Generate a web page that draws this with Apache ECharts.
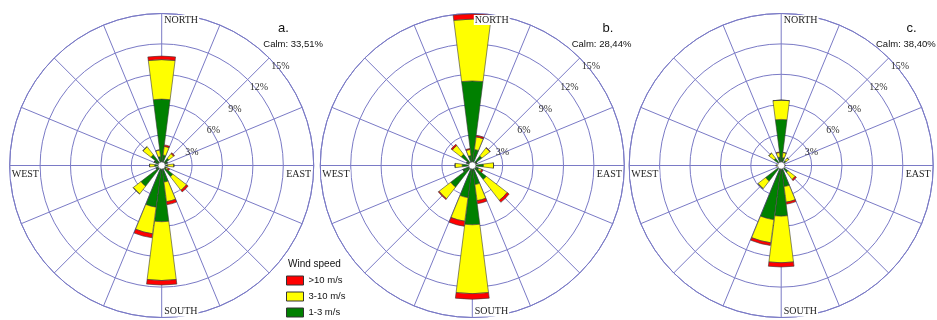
<!DOCTYPE html>
<html>
<head>
<meta charset="utf-8">
<script src="https://cdn.jsdelivr.net/npm/echarts@6/dist/echarts.min.js"></script>
<style>
html, body { margin: 0; padding: 0; background: #fff; }
#chart { width: 937px; height: 320px; }
</style>
</head>
<body>
<div id="chart"></div>
<script>
// Direction sectors, 15° wide, clockwise from north
const sectors = ['0°', '15°', '30°', '45°', '60°', '75°', '90°', '105°', '120°', '135°', '150°', '165°',
                 '180°', '195°', '210°', '225°', '240°', '255°', '270°', '285°', '300°', '315°', '330°', '345°'];
// 16-point compass used for the spokes of the grid
const compassPoints = ['N', 'NNE', 'NE', 'ENE', 'E', 'ESE', 'SE', 'SSE', 'S', 'SSW', 'SW', 'WSW', 'W', 'WNW', 'NW', 'NNW'];
const ringTicks = [0, 3, 6, 9, 12, 15];
const speedClasses = ['1-3 m/s', '3-10 m/s', '>10 m/s'];
const legendOrder = ['>10 m/s', '3-10 m/s', '1-3 m/s'];
const compassNames = ['NORTH', 'EAST', 'SOUTH', 'WEST'];

// Station a: frequency (%) per sector and speed class
const roseA_low  = [6.55, 1.05, 0, 0.9, 0.6, 0, 0.6, 0, 0.5, 1.4, 0, 1.65, 5.55, 4.15, 0, 2.6, 0.6, 0, 0.7, 0, 0.8, 1.35, 0, 0.9];
const roseA_mid  = [3.9, 0.85, 0, 0.6, 0, 0, 0.6, 0, 0.2, 1.7, 0, 1.95, 5.8, 2.65, 0, 0.95, 0, 0, 0.5, 0, 0, 1.0, 0, 0.65];
const roseA_high = [0.35, 0.15, 0, 0.1, 0, 0, 0, 0, 0.15, 0.2, 0, 0.3, 0.45, 0.4, 0, 0, 0, 0, 0, 0, 0, 0, 0, 0];

// Station b
const roseB_low  = [8.35, 1.6, 0, 1.2, 0.5, 0, 1.1, 0, 0.7, 1.75, 0, 1.9, 5.85, 3.2, 0, 2.7, 1.0, 0, 1.0, 0, 0.6, 1.4, 0, 1.0];
const roseB_mid  = [6.1, 1.25, 0, 1.0, 0, 0, 1.0, 0, 0.3, 2.6, 0, 1.6, 6.8, 2.35, 0, 1.45, 0, 0, 0.7, 0, 0, 1.1, 0, 0.6];
const roseB_high = [0.5, 0.15, 0, 0.05, 0, 0, 0, 0, 0.15, 0.25, 0, 0.3, 0.55, 0.5, 0, 0.1, 0, 0, 0, 0, 0, 0.15, 0, 0.1];

// Station c
const roseC_low  = [4.55, 0.8, 0, 0.6, 0, 0, 0.3, 0, 0, 0.85, 0, 2.1, 5.0, 5.4, 0, 1.95, 0, 0, 0.3, 0, 0, 0.9, 0, 0.85];
const roseC_mid  = [1.9, 0.5, 0, 0.35, 0, 0, 0.1, 0, 0, 0.9, 0, 1.55, 4.6, 2.3, 0, 0.95, 0, 0, 0.2, 0, 0, 0.65, 0, 0.45];
const roseC_high = [0, 0, 0, 0, 0, 0, 0, 0, 0, 0.15, 0, 0.2, 0.42, 0.27, 0, 0, 0, 0, 0, 0, 0, 0, 0, 0.05];

const panelTags = ['a.', 'b.', 'c.'];
const calmShares = ['Calm: 33,51%', 'Calm: 28,44%', 'Calm: 38,40%'];

const roses = [
  { low: roseA_low, mid: roseA_mid, high: roseA_high },
  { low: roseB_low, mid: roseB_mid, high: roseB_high },
  { low: roseC_low, mid: roseC_mid, high: roseC_high }
];

// Layout
const centersX = [161.7, 472.3, 781.2];
const centerY = 165.5;
const R = 152;
const gridColor = '#7a7ac6';
const speedColors = { '1-3 m/s': '#008000', '3-10 m/s': '#ffff00', '>10 m/s': '#ff0000' };
const serif = '"Liberation Serif", "DejaVu Serif", serif';
const sans = '"Liberation Sans", Arial, sans-serif';
const noPointer = { show: false };

const polar = [], angleAxis = [], radiusAxis = [], series = [], graphic = [];

centersX.forEach((cx, i) => {
  // polar for the grid: rings every 3 %, spokes on the 16 compass points
  polar.push({ center: [cx, centerY], radius: R });
  angleAxis.push({
    polarIndex: polar.length - 1, type: 'category', data: compassPoints, boundaryGap: true,
    startAngle: 45, clockwise: true, axisPointer: noPointer, silent: true,
    axisLine: { show: true, lineStyle: { color: gridColor, width: 1 } },
    axisTick: { show: false }, axisLabel: { show: false },
    splitLine: { show: true, lineStyle: { color: gridColor, width: 1 } }
  });
  radiusAxis.push({
    polarIndex: polar.length - 1, type: 'value', min: ringTicks[0], max: ringTicks[ringTicks.length - 1], interval: 3,
    axisLine: { show: false }, axisTick: { show: false }, axisPointer: noPointer, silent: true,
    splitLine: { show: true, lineStyle: { color: gridColor, width: 1 } },
    axisLabel: {
      show: true, showMinLabel: false, formatter: '{value}%', margin: 0,
      align: 'left', verticalAlign: 'top', padding: [3, 0, 0, 2],
      fontFamily: serif, fontSize: 10, color: '#333'
    }
  });

  // polar for the stacked sector bars
  polar.push({ center: [cx, centerY], radius: R });
  const pIdx = polar.length - 1;
  angleAxis.push({
    polarIndex: pIdx, type: 'category', data: sectors, startAngle: 97.5, clockwise: true,
    boundaryGap: true, show: false, axisPointer: noPointer
  });
  radiusAxis.push({ polarIndex: pIdx, type: 'value', min: 0, max: 15, show: false, axisPointer: noPointer });

  const rose = roses[i];
  [['1-3 m/s', rose.low], ['3-10 m/s', rose.mid], ['>10 m/s', rose.high]].forEach(([name, vals]) => {
    series.push({
      type: 'bar', name: name, coordinateSystem: 'polar', polarIndex: pIdx,
      stack: 'rose' + i, data: vals, barCategoryGap: '3%',
      itemStyle: { color: speedColors[name], borderColor: '#3a3a3a', borderWidth: 0.6 },
      emphasis: { disabled: true }, silent: true, z: 3
    });
  });

  // calm hole at the centre
  graphic.push({ type: 'circle', shape: { cx: cx, cy: centerY, r: 3.6 }, silent: true,
    style: { fill: '#fff', stroke: '#666', lineWidth: 0.7 }, z: 20 });

  // compass labels
  graphic.push({ type: 'text', x: cx + 1.5, y: centerY - R + 1.5, z: 10, silent: true,
    style: { text: compassNames[0], font: '10px ' + serif, fill: '#222', backgroundColor: '#fff', padding: [0, 1] } });
  graphic.push({ type: 'text', x: cx + R - 1.5, y: centerY + 4, z: 10, silent: true,
    style: { text: compassNames[1], font: '10px ' + serif, fill: '#222', align: 'right', backgroundColor: '#fff', padding: [0, 1] } });
  graphic.push({ type: 'text', x: cx + 1.5, y: centerY + R - 1, z: 10, silent: true,
    style: { text: compassNames[2], font: '10px ' + serif, fill: '#222', verticalAlign: 'bottom', backgroundColor: '#fff', padding: [0, 1] } });
  graphic.push({ type: 'text', x: cx - R + 1, y: centerY + 4, z: 10, silent: true,
    style: { text: compassNames[3], font: '10px ' + serif, fill: '#222', backgroundColor: '#fff', padding: [0, 1] } });
});

// panel tags and calm shares
const tagX = [278, 602.5, 906.5];
const calmX = [263.3, 571.7, 876];
panelTags.forEach((t, i) => {
  graphic.push({ type: 'text', x: tagX[i], y: 28, z: 10, silent: true,
    style: { text: t, font: '13px ' + sans, fill: '#111', verticalAlign: 'middle' } });
  graphic.push({ type: 'text', x: calmX[i], y: 44, z: 10, silent: true,
    style: { text: calmShares[i], font: '9.5px ' + sans, fill: '#111', verticalAlign: 'middle' } });
});

// legend heading
graphic.push({ type: 'text', x: 288, y: 264.5, z: 10, silent: true,
  style: { text: 'Wind speed', font: '10px ' + sans, fill: '#111', verticalAlign: 'middle' } });

const chart = echarts.init(document.getElementById('chart'), null, { renderer: 'canvas' });
chart.setOption({
  animation: false,
  backgroundColor: '#fff',
  axisPointer: { show: false, triggerOn: 'none' },
  polar: polar,
  angleAxis: angleAxis,
  radiusAxis: radiusAxis,
  legend: {
    orient: 'vertical', left: 286, top: 275.5, itemWidth: 17, itemHeight: 9, itemGap: 6,
    padding: 0, icon: 'rect', data: legendOrder,
    itemStyle: { borderColor: '#333', borderWidth: 1 },
    textStyle: { fontFamily: sans, fontSize: 9.5, color: '#111', padding: [0, 0, 0, 0] },
    selectedMode: false
  },
  series: series,
  graphic: graphic
});
</script>
</body>
</html>
